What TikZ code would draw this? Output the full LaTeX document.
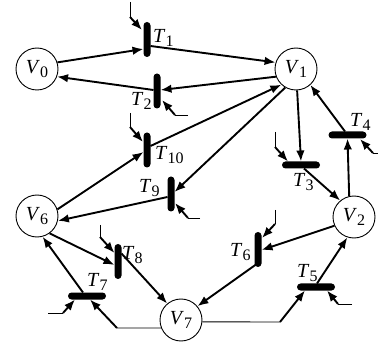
\documentclass[tikz,border=0pt]{standalone}
\usepackage{fontspec}
\setmainfont{Liberation Serif}
\usetikzlibrary{arrows.meta,calc}
% italic letter with an upright, lowered index
\newcommand\pnl[2]{\textit{#1}\raisebox{-4pt}{\fontsize{16}{16}\selectfont #2}}

\begin{document}
\begin{tikzpicture}[x=1pt,y=-1pt,
  place/.style={circle,draw,line width=0.9pt,minimum size=42pt,inner sep=0pt,
                font=\fontsize{20}{23}\selectfont},
  vbar/.style={rectangle,fill=black,rounded corners=3.5pt,minimum width=7pt,
               minimum height=35pt,inner sep=0pt},
  hbar/.style={vbar,minimum width=38pt,minimum height=7pt},
  lbl/.style={anchor=base west,inner sep=0pt,font=\fontsize{20}{23}\selectfont},
  arr/.style={line width=1.9pt,-{Latex[length=11pt,width=8.5pt]}},
  tail/.style={line width=0.9pt},
]
\useasboundingbox (0,0) rectangle (378,350);

% places
\node[place] (V0) at (37,69)  {\pnl{V}{0}};
\node[place] (V1) at (296,69) {\pnl{V}{1}};
\node[place] (V6) at (37,216) {\pnl{V}{6}};
\node[place] (V2) at (354,217) {\pnl{V}{2}};
\node[place] (V7) at (181,320) {\pnl{V}{7}};

% transitions
\node[vbar] (T1)  at (147,39.5) {};
\node[vbar] (T2)  at (157,91) {};
\node[vbar] (T10) at (147,150) {};
\node[vbar] (T9)  at (171,194) {};
\node[hbar] (T3)  at (301,165) {};
\node[hbar] (T4)  at (347.5,135) {};
\node[vbar] (T8)  at (118,261.5) {};
\node[hbar] (T7)  at (87,296) {};
\node[vbar] (T6)  at (258,249.5) {};
\node[hbar] (T5)  at (316,287) {};

% free ends of the input arcs
\coordinate (i1) at (130,2);   \coordinate (j1) at (130,17);
\coordinate (i2) at (188,115); \coordinate (j2) at (175,115);
\coordinate (i10) at (130,113);\coordinate (j10) at (130,127);
\coordinate (i9) at (200,218); \coordinate (j9) at (188,218);
\coordinate (i3) at (275,132); \coordinate (j3) at (275,147);
\coordinate (i4) at (378,153); \coordinate (j4) at (373,153);
\coordinate (i8) at (100,225); \coordinate (j8) at (100,237);
\coordinate (i7) at (48,313);  \coordinate (j7) at (63,313);
\coordinate (i6) at (275,210); \coordinate (j6) at (275,224);
\coordinate (i5) at (352,304); \coordinate (j5) at (338,304);
\coordinate (k7) at (117,328);
\coordinate (k5) at (280,322);

% input arcs
\foreach \t/\dx/\dy in {1/-5/-9.5, 2/5/9, 10/-4/-8, 9/4/9, 3/-13/-3.5,
                        4/12.5/4, 8/-3.5/-8.5, 7/-12/3.5, 6/4/-11.5, 5/11/3.5}{
  \draw[tail] (i\t) -- (j\t);
  \draw[arr] (j\t) -- ($(T\t)+(\dx,\dy)$);
}

% T1, T2
\draw[arr] (V0.18) -- ($(T1)+(-3.5,9.5)$);
\draw[arr] ($(T1)+(3.5,6.5)$) -- (V1.162);
\draw[arr] (V1.201) -- ($(T2)+(3.5,-1)$);
\draw[arr] ($(T2)+(-3.5,-1)$) -- (V0.-21);
% T10, T9
\draw[arr] (V6.18) -- ($(T10)+(-3.5,2)$);
\draw[arr] ($(T10)+(3.5,-4)$) -- (V1.227);
\draw[arr] (V1.240) -- ($(T9)+(3.5,-2)$);
\draw[arr] ($(T9)+(-3.5,3)$) -- (V6.-13);
% T3, T4
\draw[arr] (V1.-87) -- ($(T3)+(0,-3.5)$);
\draw[arr] ($(T3)+(3,3.5)$) -- (V2.130);
\draw[arr] (V2.103) -- ($(T4)+(0,3.5)$);
\draw[arr] ($(T4)+(-2.5,-3.5)$) -- (V1.-48);
% T8, T7
\draw[arr] (V6.-54) -- ($(T8)+(-3.5,3.5)$);
\draw[arr] ($(T8)+(3.5,-8)$) -- (V7.130);
\draw[tail] (V7.202) -- (k7);
\draw[arr] (k7) -- ($(T7)+(3,3.5)$);
\draw[arr] ($(T7)+(-4,-3.5)$) -- (V6.-75);
% T6, T5
\draw[arr] (V2.204) -- ($(T6)+(3.5,0.5)$);
\draw[arr] ($(T6)+(-2,15)$) -- (V7.40);
\draw[tail] (V7.-5) -- (k5);
\draw[arr] (k5) -- ($(T5)+(-11,3.5)$);
\draw[arr] ($(T5)+(1,-3.5)$) -- (V2.-108);

% transition labels
\node[lbl] (l1)  at (153,43)  {\pnl{T}{1}};
\node[lbl] (l2)  at (131,106) {\pnl{T}{2}};
\node[lbl] (l10) at (155,160) {\pnl{T}{10}};
\node[lbl] (l9)  at (139,193) {\pnl{T}{9}};
\node[lbl] (l3)  at (293,187) {\pnl{T}{3}};
\node[lbl] (l4)  at (350,127) {\pnl{T}{4}};
\node[lbl] (l8)  at (122,260) {\pnl{T}{8}};
\node[lbl] (l7)  at (87,287)  {\pnl{T}{7}};
\node[lbl] (l6)  at (230,257) {\pnl{T}{6}};
\node[lbl] (l5)  at (297,277) {\pnl{T}{5}};
\end{tikzpicture}
\end{document}
